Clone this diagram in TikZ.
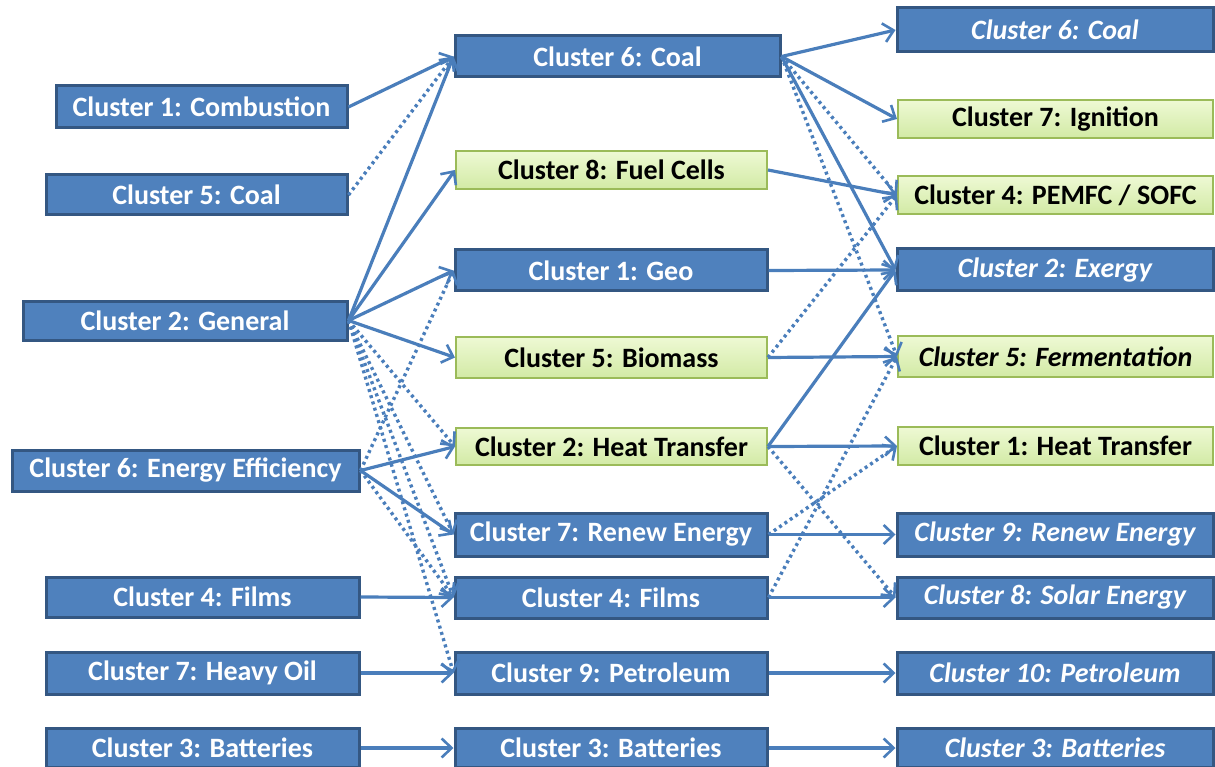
\documentclass[tikz,border=0pt]{standalone}
\usepackage{fontspec}
\setmainfont{Carlito}
\usetikzlibrary{arrows.meta}
\definecolor{boxblue}{RGB}{79,129,189}
\definecolor{boxblueline}{RGB}{52,87,130}
\definecolor{greentop}{RGB}{238,249,212}
\definecolor{greenbot}{RGB}{210,234,165}
\definecolor{greenline}{RGB}{155,187,89}
\definecolor{linkblue}{RGB}{74,126,187}
\tikzset{
  boxbase/.style={rectangle, inner sep=0pt, minimum width=312pt, minimum height=40pt,
    font=\fontsize{28}{32}\selectfont\bfseries},
  bluebox/.style={boxbase, fill=boxblue, draw=boxblueline, line width=3pt, text=white},
  greenbox/.style={boxbase, top color=greentop, bottom color=greenbot, draw=greenline, line width=2pt, text=black},
  conn/.style={draw=linkblue, line width=3.2pt, -{Straight Barb[length=10pt,width=19pt,line width=2.6pt]}},
  dconn/.style={conn, line width=3.4pt, dash pattern=on 3pt off 3.5pt},
}
\begin{document}
\begin{tikzpicture}[x=1pt,y=-1pt]
\useasboundingbox (0,0) rectangle (1215,767);
% left column
\node[bluebox, minimum width=291pt, minimum height=42pt] (L1) at (201.5,107) {Cluster 1: Combustion};
\node[bluebox, minimum width=301pt] (L5) at (196.5,195) {Cluster 5: Coal};
\node[bluebox, minimum width=324pt, minimum height=39pt] (L2) at (185,320.5) {Cluster 2: General};
\node[bluebox, minimum width=347pt, minimum height=41pt] (L6) at (185.5,470.5) {Cluster 6: Energy Efficiency};
\node[bluebox, minimum width=313pt] (L4) at (202.5,597) {Cluster 4: Films};
\node[bluebox, minimum width=313pt, minimum height=42pt] (L7) at (202.5,673) {Cluster 7: Heavy Oil};
\node[bluebox, minimum width=313pt, minimum height=39pt] (L3) at (202.5,748) {Cluster 3: Batteries};
% middle column
\node[bluebox, minimum width=325pt, minimum height=41pt] (M6) at (617.5,56.5) {Cluster 6: Coal};
\node[greenbox, minimum width=311pt, minimum height=38pt] (M8) at (611.5,170) {Cluster 8: Fuel Cells};
\node[bluebox, minimum height=41pt] (M1) at (611,270.5) {Cluster 1: Geo};
\node[greenbox, minimum width=311pt, minimum height=41pt] (M5) at (611.5,357.5) {Cluster 5: Biomass};
\node[greenbox, minimum width=311pt, minimum height=37pt] (M2) at (611.5,446.5) {Cluster 2: Heat Transfer};
\node[bluebox, minimum height=43pt] (M7) at (611,534.5) {Cluster 7: Renew Energy};
\node[bluebox, minimum height=41pt] (M4) at (611,597.5) {Cluster 4: Films};
\node[bluebox, minimum height=42pt] (M9) at (611,673) {Cluster 9: Petroleum};
\node[bluebox, minimum height=39pt] (M3) at (611,748) {Cluster 3: Batteries};
% right column
\node[bluebox, minimum width=316pt, minimum height=44pt] (R6) at (1055,30) {\itshape Cluster 6: Coal};
\node[greenbox, minimum width=315pt, minimum height=38pt] (R7) at (1055.5,119) {Cluster 7: Ignition};
\node[greenbox, minimum width=315pt, minimum height=38pt] (R4) at (1055.5,195) {Cluster 4: PEMFC / SOFC};
\node[bluebox, minimum width=316pt, minimum height=42pt] (R2) at (1055,270) {\itshape Cluster 2: Exergy};
\node[greenbox, minimum width=315pt, minimum height=41pt] (R5) at (1055.5,356.5) {\itshape Cluster 5: Fermentation};
\node[greenbox, minimum width=315pt, minimum height=38pt] (R1) at (1055.5,446) {Cluster 1: Heat Transfer};
\node[bluebox, minimum width=316pt, minimum height=43pt] (R9) at (1055,534.5) {\itshape Cluster 9: Renew Energy};
\node[bluebox, minimum width=316pt, minimum height=41pt] (R8) at (1055,597.5) {\itshape Cluster 8: Solar Energy};
\node[bluebox, minimum width=316pt, minimum height=42pt] (R10) at (1055,673) {\itshape Cluster 10: Petroleum};
\node[bluebox, minimum width=316pt, minimum height=39pt] (R3) at (1055,748) {\itshape Cluster 3: Batteries};
% left -> middle
\draw[conn] (L1.east) -- (M6.west);
\draw[dconn] (L5.east) -- (M6.west);
\draw[conn] (L2.east) -- (M6.west);
\draw[conn] (L2.east) -- (M8.west);
\draw[conn] (L2.east) -- (M1.west);
\draw[conn] (L2.east) -- (M5.west);
\draw[dconn] (L2.east) -- (M2.west);
\draw[dconn] (L2.east) -- (M7.west);
\draw[dconn] (L2.east) -- (M4.west);
\draw[dconn] (L2.east) -- (M9.west);
\draw[dconn] (L6.east) -- (M1.west);
\draw[conn] (L6.east) -- (M2.west);
\draw[conn] (L6.east) -- (M7.west);
\draw[dconn] (L6.east) -- (M4.west);
\draw[conn] (L4.east) -- (M4.west);
\draw[conn] (L7.east) -- (M9.west);
\draw[conn] (L3.east) -- (M3.west);
% middle -> right
\draw[conn] (M6.east) -- (R6.west);
\draw[conn] (M6.east) -- (R7.west);
\draw[dconn] (M6.east) -- (R4.west);
\draw[conn] (M6.east) -- (R2.west);
\draw[dconn] (M6.east) -- (R5.west);
\draw[conn] (M8.east) -- (R4.west);
\draw[conn] (M1.east) -- (R2.west);
\draw[conn] (M5.east) -- (R5.west);
\draw[dconn] (M5.east) -- (R4.west);
\draw[conn] (M2.east) -- (R1.west);
\draw[conn] (M2.east) -- (R2.west);
\draw[dconn] (M2.east) -- (R8.west);
\draw[conn] (M7.east) -- (R9.west);
\draw[dconn] (M7.east) -- (R1.west);
\draw[conn] (M4.east) -- (R8.west);
\draw[dconn] (M4.east) -- (R5.west);
\draw[conn] (M9.east) -- (R10.west);
\draw[conn] (M3.east) -- (R3.west);
\end{tikzpicture}
\end{document}
